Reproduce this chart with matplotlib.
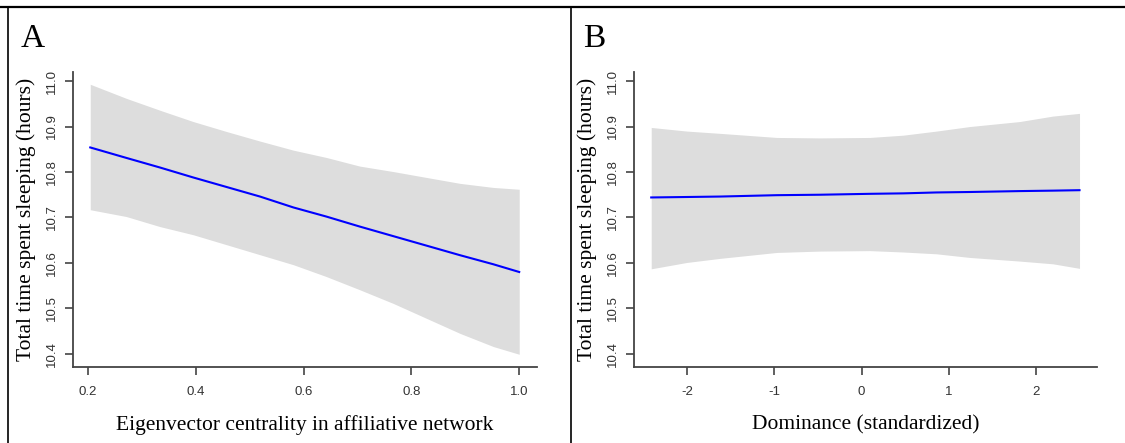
import matplotlib
matplotlib.use("Agg")
import matplotlib.pyplot as plt
from matplotlib.lines import Line2D

W, H = 1125, 443
SERIF = "Liberation Serif"
SANS = "Liberation Sans"
AXIS_COL = "#444444"
BAND_COL = "#dddddd"
LINE_COL = "#0000ff"

# Panel A: predicted sleep vs eigenvector centrality
cent_x = [0.204, 0.271, 0.333, 0.395, 0.457, 0.519, 0.581, 0.642,
          0.704, 0.766, 0.828, 0.890, 0.952, 1.000]
cent_fit = [10.854, 10.831, 10.810, 10.788, 10.767, 10.746, 10.722, 10.702,
            10.680, 10.659, 10.638, 10.617, 10.597, 10.580]
cent_hi = [10.993, 10.962, 10.936, 10.911, 10.889, 10.868, 10.848, 10.832,
           10.813, 10.801, 10.788, 10.775, 10.766, 10.762]
cent_lo = [10.717, 10.702, 10.680, 10.662, 10.640, 10.618, 10.596, 10.570,
           10.541, 10.511, 10.478, 10.445, 10.416, 10.399]

# Panel B: predicted sleep vs standardized dominance
dom_x = [-2.408, -2.0, -1.619, -0.971, -0.476, 0.095, 0.476, 0.857,
         1.238, 1.810, 2.190, 2.495]
dom_fit = [10.744, 10.745, 10.746, 10.749, 10.750, 10.752, 10.753, 10.755,
           10.756, 10.758, 10.759, 10.760]
dom_hi = [10.898, 10.890, 10.885, 10.876, 10.875, 10.876, 10.881, 10.890,
          10.900, 10.911, 10.923, 10.929]
dom_lo = [10.587, 10.601, 10.610, 10.623, 10.626, 10.627, 10.624, 10.620,
          10.612, 10.604, 10.598, 10.588]

y_ticks = [10.4, 10.5, 10.6, 10.7, 10.8, 10.9, 11.0]
cent_ticks = [0.2, 0.4, 0.6, 0.8, 1.0]
dom_ticks = [-2, -1, 0, 1, 2]

YLABEL = "Total time spent sleeping (hours)"


def px_axes(fig, x0, y0, x1, y1):
    # pixel box (top-left origin) -> figure fraction
    return fig.add_axes([x0 / W, 1 - y1 / H, (x1 - x0) / W, (y1 - y0) / H])


def draw_panel(ax, x, fit, lo, hi, xticks, xfmt, xlim, xlabel):
    ax.fill_between(x, lo, hi, color=BAND_COL, lw=0)
    ax.plot(x, fit, color=LINE_COL, lw=1.5)
    ax.set_xlim(*xlim)
    ax.set_ylim(10.371, 11.020)
    for s in ("top", "right"):
        ax.spines[s].set_visible(False)
    for s in ("left", "bottom"):
        ax.spines[s].set_color(AXIS_COL)
        ax.spines[s].set_linewidth(1.3)
    ax.set_xticks(xticks)
    ax.set_xticklabels([xfmt(v) for v in xticks], family=SANS, fontsize=9.5,
                       color="#333333")
    ax.set_yticks(y_ticks)
    ax.set_yticklabels([f"{v:.1f}" for v in y_ticks], family=SANS, fontsize=9.5,
                       color="#333333", rotation=90, va="center")
    ax.tick_params(direction="out", length=6, width=1.2, color=AXIS_COL)
    ax.tick_params(axis="x", pad=8)
    ax.tick_params(axis="y", pad=5)
    ax.set_xlabel(xlabel, family=SERIF, fontsize=15.5, labelpad=12)
    ax.set_ylabel(YLABEL, family=SERIF, fontsize=15.5, labelpad=7)


fig = plt.figure(figsize=(W / 100, H / 100), dpi=100)

ax_a = px_axes(fig, 73, 72, 537, 367)
draw_panel(ax_a, cent_x, cent_fit, cent_lo, cent_hi, cent_ticks,
           lambda v: f"{v:.1f}", (0.172, 1.033),
           "Eigenvector centrality in affiliative network")

ax_b = px_axes(fig, 634, 72, 1097, 367)
draw_panel(ax_b, dom_x, dom_fit, dom_lo, dom_hi, dom_ticks,
           lambda v: f"{v:d}", (-2.605, 2.695),
           "Dominance (standardized)")

# panel letters
fig.text(21 / W, 1 - 47 / H, "A", family=SERIF, fontsize=24, va="baseline")
fig.text(583 / W, 1 - 47 / H, "B", family=SERIF, fontsize=24, va="baseline")

# outer frame: top edge, left edge and the divider between panels
fig.add_artist(Line2D([0, 1], [1 - 7 / H, 1 - 7 / H], color="black", lw=1.6))
fig.add_artist(Line2D([8 / W, 8 / W], [0, 1 - 7 / H], color="black", lw=1.2))
fig.add_artist(Line2D([571 / W, 571 / W], [0, 1 - 7 / H], color="black", lw=1.2))

fig.savefig("out.png", dpi=100)
